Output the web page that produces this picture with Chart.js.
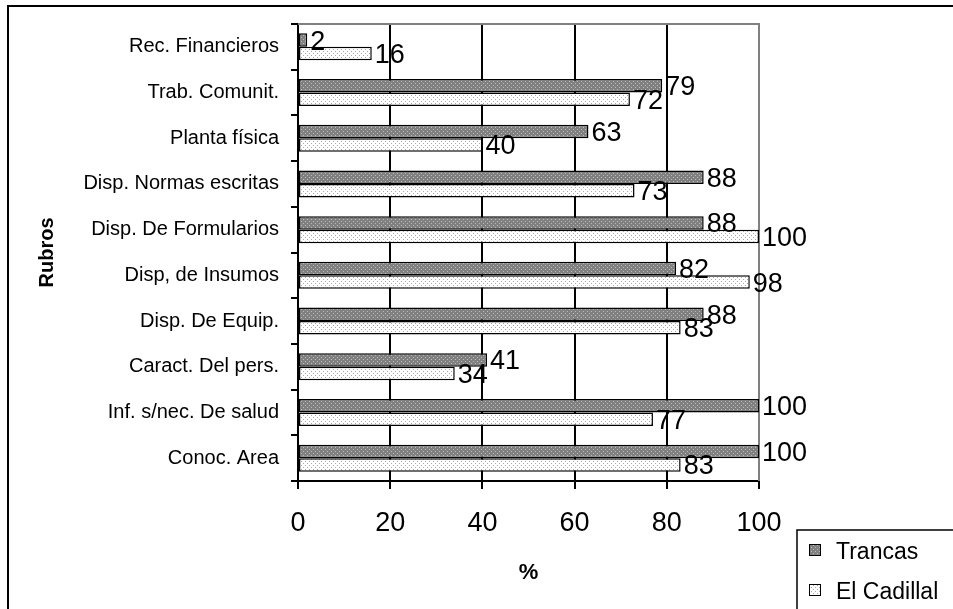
<!DOCTYPE html>
<html>
<head>
<meta charset="utf-8">
<title>Rubros</title>
<script src="https://cdn.jsdelivr.net/npm/chart.js@4.4.1/dist/chart.umd.min.js"></script>
<style>
  html, body { margin: 0; padding: 0; background: #fff; }
  #chart { display: block; }
</style>
</head>
<body>
<canvas id="chart" width="953" height="609"></canvas>
<script>
'use strict';

// ── data ──────────────────────────────────────
const rubros = [
  'Rec. Financieros', 'Trab. Comunit.', 'Planta física', 'Disp. Normas escritas',
  'Disp. De Formularios', 'Disp, de Insumos', 'Disp. De Equip.', 'Caract. Del pers.',
  'Inf. s/nec. De salud', 'Conoc. Area',
];
const trancas    = [2, 79, 63, 88, 88, 82, 88, 41, 100, 100];
const elCadillal = [16, 72, 40, 73, 100, 98, 83, 34, 77, 83];
const xTicks     = [0, 20, 40, 60, 80, 100];

const FONT = '"Liberation Sans", Arial, sans-serif';

// ── dotted fills ──────────────────────────────
function makePattern(bg, dot) {
  const c = document.createElement('canvas');
  c.width = 4; c.height = 4;
  const g = c.getContext('2d');
  g.fillStyle = bg;
  g.fillRect(0, 0, 4, 4);
  g.fillStyle = dot;
  g.fillRect(1, 1, 1, 1);
  g.fillRect(3, 3, 1, 1);
  return document.getElementById('chart').getContext('2d').createPattern(c, 'repeat');
}
const darkFill  = makePattern('#808080', '#bcbcbc');
const lightFill = makePattern('#ffffff', '#a8a8a8');

// ── frame, plot border, value labels, legend ──
const decor = {
  id: 'decor',
  beforeDraw(chart) {
    const ctx = chart.ctx;
    ctx.save();
    ctx.fillStyle = '#fff';
    ctx.fillRect(0, 0, chart.width, chart.height);
    ctx.strokeStyle = '#000';
    ctx.lineWidth = 2;
    ctx.strokeRect(8, 6, chart.width + 20, chart.height + 20);
    ctx.restore();
  },
  beforeDatasetsDraw(chart) {
    const { ctx, chartArea: a } = chart;
    ctx.save();
    ctx.strokeStyle = '#808080';
    ctx.lineWidth = 2;
    ctx.beginPath();
    ctx.moveTo(a.left, a.top);
    ctx.lineTo(a.right, a.top);
    ctx.lineTo(a.right, a.bottom);
    ctx.stroke();
    ctx.restore();
  },
  afterDatasetsDraw(chart) {
    const ctx = chart.ctx;
    ctx.save();
    ctx.font = '27px ' + FONT;
    ctx.fillStyle = '#000';
    ctx.textBaseline = 'middle';
    ctx.textAlign = 'left';
    chart.data.datasets.forEach((ds, i) => {
      chart.getDatasetMeta(i).data.forEach((bar, j) => {
        ctx.fillText(String(ds.data[j]), bar.x + 3, bar.y + 2);
      });
    });
    ctx.restore();
  },
  afterDraw(chart) {
    const ctx = chart.ctx;
    ctx.save();
    ctx.strokeStyle = '#000';
    ctx.lineWidth = 1.5;
    ctx.fillStyle = '#fff';
    ctx.fillRect(797, 530, 200, 100);
    ctx.strokeRect(797, 530, 200, 100);
    ctx.font = '23px ' + FONT;
    ctx.textBaseline = 'middle';
    chart.data.datasets.forEach((ds, i) => {
      const cy = 550 + i * 40;
      ctx.fillStyle = ds.backgroundColor;
      ctx.fillRect(809, cy - 6, 12, 12);
      ctx.lineWidth = 1;
      ctx.strokeRect(809.5, cy - 5.5, 11, 11);
      ctx.fillStyle = '#000';
      ctx.fillText(ds.label, 836, cy + 3);
    });
    ctx.restore();
  },
};

// ── chart ─────────────────────────────────────
new Chart(document.getElementById('chart'), {
  type: 'bar',
  data: {
    labels: rubros,
    datasets: [
      {
        label: 'Trancas',
        data: trancas,
        backgroundColor: darkFill,
        borderColor: '#000',
        borderWidth: 1.5,
        borderSkipped: false,
        barPercentage: 1.0,
        categoryPercentage: 0.59,
      },
      {
        label: 'El Cadillal',
        data: elCadillal,
        backgroundColor: lightFill,
        borderColor: '#000',
        borderWidth: 1.5,
        borderSkipped: false,
        barPercentage: 1.0,
        categoryPercentage: 0.59,
      },
    ],
  },
  options: {
    indexAxis: 'y',
    responsive: false,
    devicePixelRatio: 1,
    animation: false,
    layout: { padding: { left: 0, top: 24, right: 194, bottom: 0 } },
    plugins: {
      legend: { display: false },
      tooltip: { enabled: false },
    },
    scales: {
      x: {
        type: 'linear',
        position: 'bottom',
        min: 0,
        max: 100,
        afterBuildTicks: (scale) => { scale.ticks = xTicks.map((v) => ({ value: v })); },
        afterFit: (scale) => { scale.height = 128; },
        ticks: {
          font: { family: FONT, size: 27 },
          color: '#000',
          padding: 18,
          maxRotation: 0,
        },
        grid: {
          color: (c) => (c.tick && c.tick.value === 100 ? '#808080' : '#000'),
          lineWidth: 2,
          tickLength: 8,
          tickColor: '#000',
        },
        border: { color: '#000', width: 2 },
        title: {
          display: true,
          text: '%',
          color: '#000',
          font: { family: FONT, size: 22, weight: 'bold' },
          padding: { top: 0, bottom: 23 },
        },
      },
      y: {
        type: 'category',
        afterFit: (scale) => { scale.width = 298; },
        ticks: {
          font: { family: FONT, size: 20 },
          color: '#000',
          padding: 12,
        },
        grid: {
          drawOnChartArea: false,
          tickLength: 7,
          tickColor: '#000',
          lineWidth: 2,
        },
        border: { color: '#000', width: 2 },
        title: {
          display: true,
          text: 'Rubros',
          color: '#000',
          font: { family: FONT, size: 20, weight: 'bold' },
          padding: { top: 35, bottom: 0 },
        },
      },
    },
  },
  plugins: [decor],
});
</script>
</body>
</html>
